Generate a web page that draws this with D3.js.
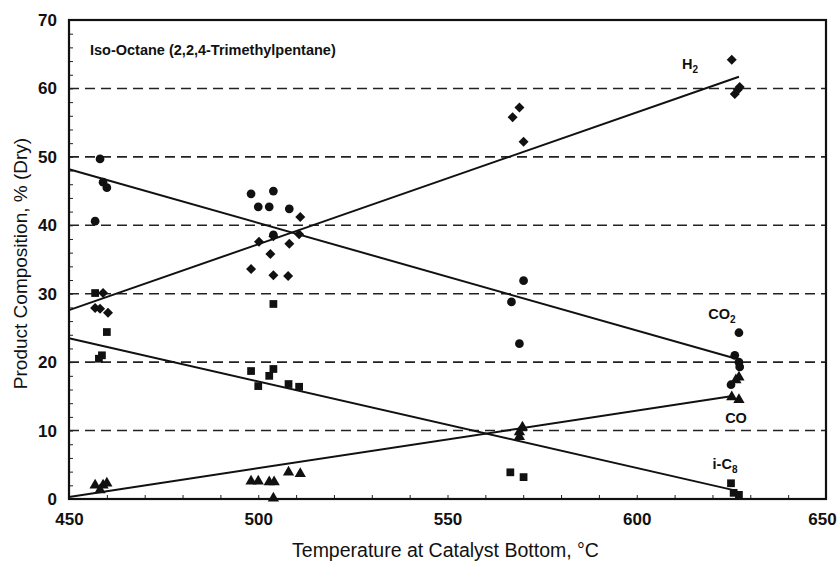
<!DOCTYPE html>
<html>
<head>
<meta charset="utf-8">
<script src="https://cdn.jsdelivr.net/npm/d3@7"></script>
<style>
  body { margin: 0; background: #fff; }
  svg text { font-family: "Liberation Sans", Arial, Helvetica, sans-serif; fill: #111; }
</style>
</head>
<body>
<svg id="chart"></svg>
<script>
// Iso-octane product composition vs catalyst bottom temperature.

// H2 (diamonds)
const h2Temp = [456.9, 459.0, 458.2, 460.3, 498.1, 500.2, 503.2, 504.0, 504.0, 507.9, 508.2, 510.8, 511.1, 567.2, 569.0, 570.1, 625.1, 625.9, 626.7, 627.2];
const h2Vals = [27.9, 30.1, 27.8, 27.2, 33.6, 37.6, 35.8, 38.4, 32.7, 32.6, 37.3, 38.7, 41.2, 55.8, 57.2, 52.2, 64.2, 59.2, 59.8, 60.2];

// CO2 (circles)
const co2Temp = [458.2, 459.0, 460.0, 456.9, 498.1, 504.0, 500.0, 502.9, 508.2, 504.0, 570.1, 566.9, 569.0, 627.0, 625.9, 627.0, 627.2, 624.9];
const co2Vals = [49.7, 46.3, 45.5, 40.6, 44.6, 45.0, 42.7, 42.7, 42.4, 38.6, 31.9, 28.8, 22.7, 24.3, 21.0, 20.0, 19.3, 16.7];

// CO (triangles)
const coTemp = [456.9, 458.2, 459.0, 460.0, 498.1, 500.0, 502.9, 504.2, 504.0, 508.0, 511.1, 569.8, 569.0, 569.0, 627.0, 626.2, 627.0, 625.1];
const coVals = [2.0, 1.3, 2.0, 2.3, 2.6, 2.6, 2.5, 2.5, 0.1, 3.9, 3.7, 10.5, 9.8, 9.1, 17.8, 17.4, 14.5, 14.9];

// i-C8 (squares)
const ic8Temp = [456.9, 460.0, 458.7, 457.9, 498.1, 500.0, 502.9, 504.0, 508.0, 510.8, 504.0, 566.6, 570.1, 624.9, 625.6, 627.0];
const ic8Vals = [30.1, 24.4, 21.0, 20.5, 18.7, 16.5, 18.0, 19.0, 16.8, 16.4, 28.5, 3.9, 3.2, 2.3, 0.9, 0.6];

// fitted lines: [start temp, end temp], [start value, end value]
const h2Fit = [[450, 627], [27.6, 61.7]];
const co2Fit = [[450, 625.6], [48.2, 20.6]];
const ic8Fit = [[450, 625.6], [23.5, 1.3]];
const coFit = [[450, 624.9], [0.3, 15.0]];

const xTicks = [450, 500, 550, 600, 650];
const yTicks = [0, 10, 20, 30, 40, 50, 60, 70];
const gridVals = [10, 20, 30, 40, 50, 60];

const W = 839, H = 565;
const M = { top: 20, right: 13, bottom: 66, left: 69 };
const iw = W - M.left - M.right, ih = H - M.top - M.bottom;

const svg = d3.select("#chart").attr("width", W).attr("height", H);
const g = svg.append("g").attr("transform", `translate(${M.left},${M.top})`);

const x = d3.scaleLinear().domain([450, 650]).range([0, iw]);
const y = d3.scaleLinear().domain([0, 70]).range([ih, 0]);

//Dashed grid lines
g.selectAll(".grid").data(gridVals).enter().append("line")
  .attr("x1", 0).attr("x2", iw)
  .attr("y1", d => y(d)).attr("y2", d => y(d))
  .attr("stroke", "#222").attr("stroke-width", 1.6)
  .attr("stroke-dasharray", "10,6");

//Axes with inward ticks
g.append("g").attr("transform", `translate(0,${ih})`)
  .call(d3.axisBottom(x).tickValues(d3.range(450, 651, 10)).tickSize(-4).tickFormat(""))
  .call(a => a.select(".domain").remove());
g.append("g").attr("transform", `translate(0,${ih})`)
  .call(d3.axisBottom(x).tickValues(xTicks).tickSize(0).tickPadding(14).tickFormat(d3.format("d")))
  .call(a => a.select(".domain").remove())
  .selectAll("text").attr("font-size", 17).attr("font-weight", 600).attr("fill", "#111")
  .attr("dx", d => d === 650 ? -4 : 0);

g.append("g")
  .call(d3.axisLeft(y).tickValues(d3.range(0, 71, 2)).tickSize(-4).tickFormat(""))
  .call(a => a.select(".domain").remove());
g.append("g")
  .call(d3.axisLeft(y).tickValues(yTicks).tickSize(0).tickPadding(12).tickFormat(d3.format("d")))
  .call(a => a.select(".domain").remove())
  .selectAll("text").attr("font-size", 17).attr("font-weight", 600).attr("fill", "#111");

g.selectAll(".tick line").attr("stroke", "#222");

//Frame
g.append("rect").attr("width", iw).attr("height", ih)
  .attr("fill", "none").attr("stroke", "#111").attr("stroke-width", 2.2);

//Fit lines
const fits = [h2Fit, co2Fit, ic8Fit, coFit];
g.selectAll(".fit").data(fits).enter().append("line")
  .attr("x1", d => x(d[0][0])).attr("x2", d => x(d[0][1]))
  .attr("y1", d => y(d[1][0])).attr("y2", d => y(d[1][1]))
  .attr("stroke", "#111").attr("stroke-width", 2);

//Rotated square for the H2 marker
const squareDiamond = {
  draw(ctx, size) {
    const r = Math.sqrt(size / 2);
    ctx.moveTo(0, -r); ctx.lineTo(r, 0); ctx.lineTo(0, r); ctx.lineTo(-r, 0); ctx.closePath();
  }
};

//Markers
function pts(t, v) { return t.map((d, i) => [d, v[i]]); }
const series = [
  { data: pts(h2Temp, h2Vals), sym: squareDiamond, size: 50 },
  { data: pts(co2Temp, co2Vals), sym: d3.symbolCircle, size: 60 },
  { data: pts(coTemp, coVals), sym: d3.symbolTriangle, size: 55 },
  { data: pts(ic8Temp, ic8Vals), sym: d3.symbolSquare, size: 60 }
];
series.forEach(s => {
  g.selectAll(null).data(s.data).enter().append("path")
    .attr("d", d3.symbol().type(s.sym).size(s.size))
    .attr("transform", d => `translate(${x(d[0])},${y(d[1])})`)
    .attr("fill", "#111");
});

//Annotations
g.append("text").attr("x", 21).attr("y", 35)
  .attr("font-size", 14.5).attr("font-weight", 700)
  .text("Iso-Octane (2,2,4-Trimethylpentane)");

function label(tx, ty, main, sub) {
  const t = g.append("text").attr("x", tx - M.left).attr("y", ty - M.top)
    .attr("font-size", 14.5).attr("font-weight", 700).attr("text-anchor", "middle");
  t.append("tspan").text(main);
  if (sub) t.append("tspan").attr("font-size", 10).attr("dy", 4).text(sub);
}
label(690, 69, "H", "2");
label(722, 319, "CO", "2");
label(736, 423, "CO");
label(725, 469, "i-C", "8");

//Axis titles
svg.append("text").attr("x", M.left + iw / 2 - 2).attr("y", 557)
  .attr("text-anchor", "middle").attr("font-size", 19.5)
  .text("Temperature at Catalyst Bottom, °C");
svg.append("text")
  .attr("transform", `translate(27,${M.top + ih / 2 + 4}) rotate(-90)`)
  .attr("text-anchor", "middle").attr("font-size", 19)
  .text("Product Composition, % (Dry)");
</script>
</body>
</html>
